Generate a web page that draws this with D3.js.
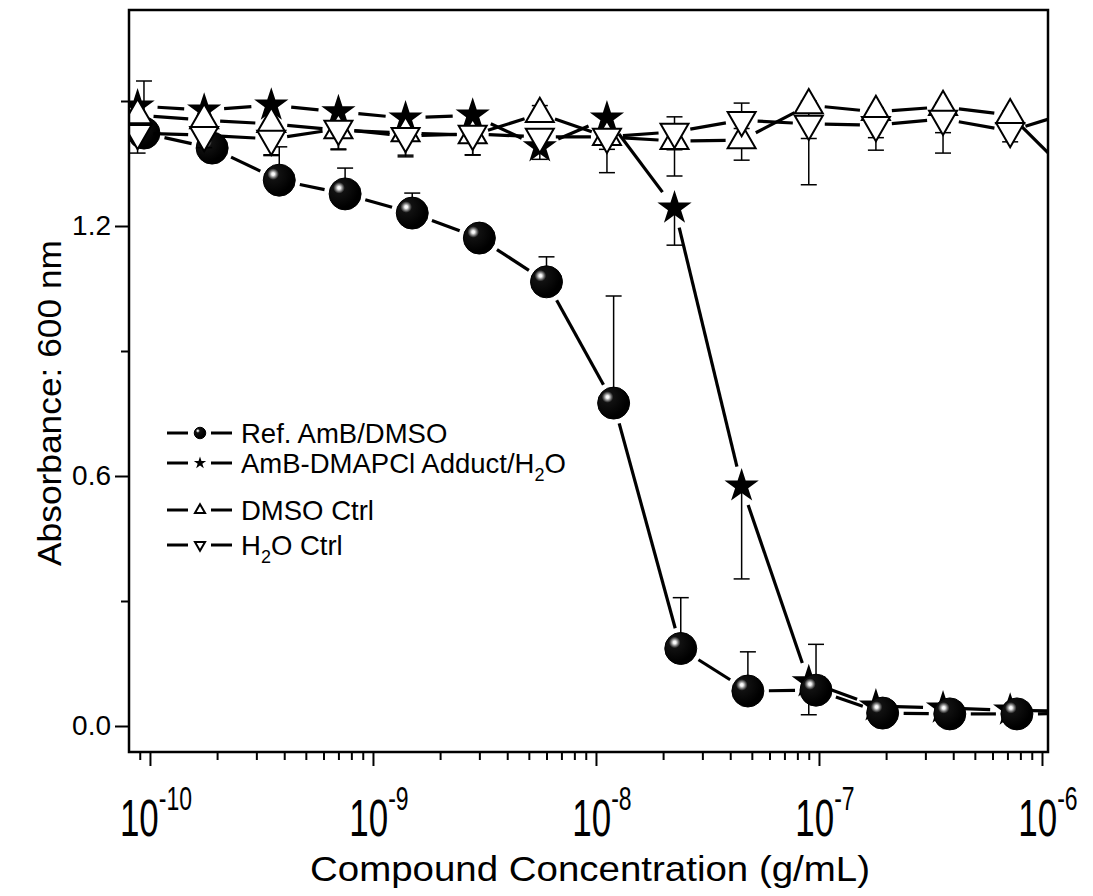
<!DOCTYPE html>
<html>
<head>
<meta charset="utf-8">
<script src="https://cdn.jsdelivr.net/npm/d3@7/dist/d3.min.js"></script>
<style>
  body { margin: 0; background: #fff; }
  svg { display: block; }
  text { font-family: "Liberation Sans", Arial, sans-serif; fill: #000; }
</style>
</head>
<body>
<div id="chart"></div>
<script>

// concentrations, g/mL (two-fold dilutions)
var concRef    = [9.4e-11, 1.9e-10, 3.8e-10, 7.5e-10, 1.5e-9, 3.0e-9, 6.0e-9, 1.2e-8, 2.4e-8, 4.8e-8, 9.7e-8, 1.93e-7, 3.86e-7, 7.72e-7, 1.54e-6];
var concAdduct = [8.8e-11, 1.75e-10, 3.5e-10, 7.0e-10, 1.4e-9, 2.8e-9, 5.6e-9, 1.12e-8, 2.25e-8, 4.5e-8, 9.0e-8, 1.8e-7, 3.6e-7, 7.2e-7, 1.44e-6];

// absorbance at 600 nm
var absRef    = [1.423, 1.387, 1.310, 1.277, 1.231, 1.171, 1.066, 0.775, 0.186, 0.084, 0.086, 0.031, 0.029, 0.029, 0.030];
var absAdduct = [1.488, 1.478, 1.490, 1.474, 1.459, 1.466, 1.390, 1.459, 1.243, 0.576, 0.106, 0.048, 0.043, 0.038, 0.035];
var absDmso   = [1.466, 1.454, 1.445, 1.430, 1.423, 1.418, 1.469, 1.414, 1.404, 1.406, 1.490, 1.474, 1.486, 1.466, 1.306];
var absWater  = [1.423, 1.418, 1.409, 1.433, 1.416, 1.421, 1.414, 1.414, 1.426, 1.454, 1.445, 1.442, 1.457, 1.428, 1.478];

// error bars (upper / lower part that shows)
var errUpRef      = [0.125, 0, 0.08, 0.062, 0.048, 0.01, 0.06, 0.257, 0.122, 0.094, 0.11, 0, 0, 0, 0];
var errDownRef    = [0, 0, 0, 0, 0, 0, 0, 0, 0, 0, 0, 0, 0, 0, 0];
var errUpAdduct   = [0, 0, 0, 0, 0, 0, 0, 0, 0, 0, 0, 0, 0, 0, 0];
var errDownAdduct = [0, 0, 0, 0, 0, 0, 0.03, 0, 0.089, 0.223, 0.079, 0, 0, 0, 0];
var errUpDmso     = [0, 0, 0, 0, 0, 0, 0.02, 0, 0, 0, 0.01, 0.01, 0.01, 0.01, 0];
var errDownDmso   = [0.02, 0.02, 0.074, 0.045, 0.053, 0.048, 0.02, 0.03, 0.084, 0.048, 0.08, 0.062, 0.062, 0.02, 0];
var errUpWater    = [0, 0, 0, 0, 0, 0, 0.01, 0, 0.036, 0.041, 0, 0, 0, 0, 0];
var errDownWater  = [0.048, 0.03, 0.04, 0.05, 0.05, 0.05, 0.02, 0.086, 0.043, 0.02, 0.146, 0.06, 0.082, 0.026, 0];

var legendLabels = ["Ref. AmB/DMSO", "AmB-DMAPCl Adduct/H", "DMSO Ctrl", "H"];
var decadeTicks  = [-10, -9, -8, -7, -6];
var yMajorTicks  = [0, 0.6, 1.2];
var yMinorTicks  = [0.3, 0.9, 1.5];

// layout
var margin = {top: 10, left: 129},
    width = 919,
    height = 742;

var svg = d3.select("#chart").append("svg")
    .attr("width", 1093)
    .attr("height", 896);

// shaded ball for the reference series
var defs = svg.append("defs");
var grad = defs.append("radialGradient")
    .attr("id", "ball")
    .attr("cx", "31%").attr("cy", "31%")
    .attr("fx", "31%").attr("fy", "31%")
    .attr("r", "62%");
[[0, "#ffffff"], [0.07, "#f4f4f4"], [0.13, "#b0b0b0"], [0.21, "#5a5a5a"], [0.29, "#111"], [1, "#000"]]
  .forEach(function(s) { grad.append("stop").attr("offset", s[0]).attr("stop-color", s[1]); });

defs.append("clipPath").attr("id", "plotclip")
  .append("rect").attr("width", width).attr("height", height);

var g = svg.append("g")
    .attr("transform", "translate(" + margin.left + "," + margin.top + ")");

var x = d3.scaleLog()
    .domain([Math.pow(10, -10.094), Math.pow(10, -5.973)])
    .range([0, width]);

var y = d3.scaleLinear()
    .domain([-0.0624, 1.7184])
    .range([height, 0]);

// x axis ticks: decades + 2..9 minors
var xMinor = [];
decadeTicks.concat([-11]).forEach(function(e) {
  for (var k = 2; k <= 9; k++) {
    var v = k * Math.pow(10, e);
    if (v > x.domain()[0] && v < x.domain()[1]) xMinor.push(v);
  }
});
var xMajor = decadeTicks.map(function(e) { return Math.pow(10, e); });

function tickAxis(axis) {
  return function(sel) {
    sel.call(axis);
    sel.select(".domain").remove();
    sel.selectAll(".tick line").attr("stroke", "#000").attr("stroke-width", 2);
  };
}

g.append("g").attr("transform", "translate(0," + height + ")")
  .call(tickAxis(d3.axisBottom(x).tickValues(xMinor).tickSize(8).tickFormat("")));
g.append("g").attr("transform", "translate(0," + height + ")")
  .call(tickAxis(d3.axisBottom(x).tickValues(xMajor).tickSize(14).tickFormat("")));

g.append("g")
  .call(tickAxis(d3.axisLeft(y).tickValues(yMinorTicks).tickSize(8).tickFormat("")));
var yAx = g.append("g")
  .call(tickAxis(d3.axisLeft(y).tickValues(yMajorTicks).tickSize(14).tickPadding(4).tickFormat(d3.format(".1f"))));
yAx.selectAll(".tick text").attr("font-size", 28).style("font-family", "'Liberation Sans', Arial, sans-serif");

// decade labels 10^n
decadeTicks.forEach(function(e) {
  var t = g.append("text")
      .attr("transform", "translate(" + (x(Math.pow(10, e)) + 6) + "," + (height + 84) + ") scale(0.92,1.36)")
      .attr("text-anchor", "middle")
      .attr("font-size", 38);
  t.append("tspan").text("10");
  t.append("tspan").attr("font-size", 25).attr("dy", -19).text(String(e));
});

// axis titles
g.append("text")
    .attr("x", 590 - margin.left)
    .attr("y", height + 129)
    .attr("text-anchor", "middle")
    .attr("font-size", 35)
    .attr("textLength", 560)
    .attr("lengthAdjust", "spacingAndGlyphs")
    .text("Compound Concentration (g/mL)");

g.append("text")
    .attr("transform", "translate(" + (61 - margin.left) + "," + (403 - margin.top) + ") rotate(-90)")
    .attr("text-anchor", "middle")
    .attr("font-size", 33)
    .attr("textLength", 326)
    .attr("lengthAdjust", "spacingAndGlyphs")
    .text("Absorbance: 600 nm");

// series
var starSym  = d3.symbol().type(d3.symbolStar).size(364);
var triSym   = d3.symbol().type(d3.symbolTriangle).size(339);

var series = [
  {conc: concAdduct, vals: absAdduct, up: errUpAdduct, down: errDownAdduct, gap: 20, kind: "star"},
  {conc: concRef,    vals: absRef,    up: errUpRef,    down: errDownRef,    gap: 21, kind: "ball"},
  {conc: concAdduct, vals: absDmso,   up: errUpDmso,   down: errDownDmso,   gap: 16, kind: "up"},
  {conc: concAdduct, vals: absWater,  up: errUpWater,  down: errDownWater,  gap: 16, kind: "down"}
];

var plot = g.append("g").attr("clip-path", "url(#plotclip)");

function drawMarker(sel, kind, scale) {
  scale = scale || 1;
  if (kind === "ball") {
    sel.append("circle").attr("r", 16 * scale)
      .attr("fill", "url(#ball)").attr("stroke", "#000").attr("stroke-width", 1);
  } else if (kind === "star") {
    sel.append("path").attr("d", starSym()).attr("transform", "scale(" + scale + ")")
      .attr("fill", "#000");
  } else {
    sel.append("path").attr("d", triSym())
      .attr("transform", "scale(" + scale + ")" + (kind === "down" ? " rotate(180)" : ""))
      .attr("fill", "#fff").attr("stroke", "#000").attr("stroke-width", 2 / scale);
  }
}

series.forEach(function(s) {
  var sg = plot.append("g");
  var pts = s.vals.map(function(v, i) { return [x(s.conc[i]), y(v)]; });

  // connecting segments, with a gap round each marker
  d3.pairs(pts).forEach(function(p) {
    var dx = p[1][0] - p[0][0], dy = p[1][1] - p[0][1];
    var len = Math.sqrt(dx * dx + dy * dy);
    if (len <= 2 * s.gap) return;
    var ux = dx / len, uy = dy / len;
    sg.append("line")
      .attr("x1", p[0][0] + ux * s.gap).attr("y1", p[0][1] + uy * s.gap)
      .attr("x2", p[1][0] - ux * s.gap).attr("y2", p[1][1] - uy * s.gap)
      .attr("stroke", "#000").attr("stroke-width", 3.2);
  });

  // error bars
  s.vals.forEach(function(v, i) {
    var cx = x(s.conc[i]);
    [[s.up[i], 1], [s.down[i], -1]].forEach(function(e) {
      if (!e[0]) return;
      var yEnd = y(v + e[1] * e[0]);
      sg.append("line").attr("x1", cx).attr("x2", cx).attr("y1", y(v)).attr("y2", yEnd)
        .attr("stroke", "#000").attr("stroke-width", 1.5);
      sg.append("line").attr("x1", cx - 8).attr("x2", cx + 8).attr("y1", yEnd).attr("y2", yEnd)
        .attr("stroke", "#000").attr("stroke-width", 1.5);
    });
  });

  // markers
  pts.forEach(function(p) {
    var m = sg.append("g").attr("transform", "translate(" + p[0] + "," + p[1] + ")");
    drawMarker(m, s.kind);
  });
});

// frame
g.append("rect")
    .attr("width", width).attr("height", height)
    .attr("fill", "none").attr("stroke", "#000").attr("stroke-width", 2.5);

// legend
var legendKinds = ["ball", "star", "up", "down"];
var legendY = [433, 463, 510, 545];
legendKinds.forEach(function(k, i) {
  var ly = legendY[i] - margin.top;
  var lg = g.append("g");
  lg.append("line").attr("x1", 167 - margin.left).attr("x2", 188 - margin.left)
    .attr("y1", ly).attr("y2", ly).attr("stroke", "#000").attr("stroke-width", 3);
  lg.append("line").attr("x1", 211 - margin.left).attr("x2", 232 - margin.left)
    .attr("y1", ly).attr("y2", ly).attr("stroke", "#000").attr("stroke-width", 3);
  var m = lg.append("g").attr("transform", "translate(" + (200 - margin.left) + "," + ly + ")");
  drawMarker(m, k, 0.36);

  var t = lg.append("text").attr("x", 241 - margin.left).attr("y", ly + 10).attr("font-size", 27.5);
  t.append("tspan").text(legendLabels[i]);
  if (i === 1 || i === 3) {
    t.append("tspan").attr("font-size", 18).attr("dy", 8).text("2");
    t.append("tspan").attr("dy", -8).text(i === 1 ? "O" : "O Ctrl");
  }
});

</script>
</body>
</html>
